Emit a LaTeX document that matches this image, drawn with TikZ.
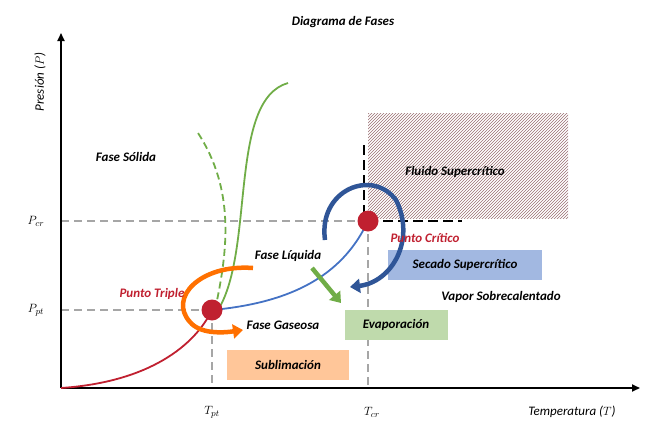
\documentclass[tikz,border=0pt]{standalone}
\usepackage{fontspec}
\setmainfont{Carlito}
\usetikzlibrary{arrows.meta,patterns}
\definecolor{kRed}{RGB}{192,32,48}
\definecolor{kBlue}{RGB}{47,85,151}
\definecolor{kLBlue}{RGB}{68,114,196}
\definecolor{kGreen}{RGB}{112,173,71}
\definecolor{kOrange}{RGB}{255,112,0}
\definecolor{kGrey}{RGB}{166,166,166}
\tikzset{
  every node/.style={font=\fontsize{13}{15}\selectfont},
  lbl/.style={font=\bfseries\itshape\fontsize{13}{15}\selectfont},
  redlbl/.style={lbl,text=kRed},
  procbox/.style={lbl,minimum height=30pt,inner sep=0pt},
  guide/.style={kGrey,line width=2pt,dash pattern=on 8pt off 5pt},
  dot/.style={circle,fill=kRed,minimum size=21pt,inner sep=0pt}
}
\begin{document}
\begin{tikzpicture}[x=1pt,y=-1pt]
  \useasboundingbox (0,0) rectangle (650,431);

  % hatched region
  \fill[pattern=north east lines,pattern color=kRed!45!black!60] (368,113) rectangle (568,218);

  % guide lines
  \draw[guide] (61,221) -- (368,221);
  \draw[guide] (61,310) -- (212,310);
  \draw[guide] (212,310) -- (212,388);
  \draw[guide] (368,221) -- (368,388);
  \draw[black,line width=2.2pt,dash pattern=on 10pt off 5pt] (364,145) -- (364,221) (368,221) -- (462,221);

  % axes
  \draw[line width=1.8pt,-{Triangle[length=8pt,width=7pt]}] (61,388) -- (61,33);
  \draw[line width=1.8pt,-{Triangle[length=8pt,width=7pt]}] (61,388) -- (640,388);

  % boxes
  \node[procbox,fill=kLBlue!50,minimum width=154pt] (secado) at (465,265) {Secado Supercrítico};
  \node[procbox,fill=kGreen!45,minimum width=103pt] (evap) at (396,325) {Evaporación};
  \node[procbox,fill=kOrange!40,minimum width=122pt] (subl) at (288,365) {Sublimación};

  % phase curves
  \draw[kRed,line width=1.8pt] (61,388) .. controls (150,382) and (195,345) .. (212,310);
  \draw[kLBlue,line width=1.8pt] (212,310) .. controls (300,302) and (345,270) .. (368,221);
  \draw[kGreen,line width=1.8pt] (218,310) .. controls (255,250) and (228,100) .. (288,83);
  \draw[kGreen,line width=1.8pt,dash pattern=on 7pt off 4pt] (215,310) .. controls (228,250) and (235,190) .. (198,133);

  % points
  \node[dot] (tp) at (212,310) {};
  \node[dot] (cp) at (368,221) {};

  % process arrows
  \draw[kOrange,line width=4.5pt,-{Triangle[length=10pt,width=14pt]}]
    (253,268) .. controls (200,264) and (168,298) .. (190,322)
    .. controls (200,334) and (222,333) .. (243,330);
  \draw[kBlue,line width=4.5pt,-{Triangle[length=10pt,width=14pt]}]
    (325,240) .. controls (318,190) and (372,168) .. (396,200)
    .. controls (416,240) and (392,282) .. (350,287);
  \draw[kGreen,line width=4.5pt,-{Triangle[length=10pt,width=14pt]}] (312,268) -- (341,303);

  % labels
  \node[lbl] (title) at (343,22) {Diagrama de Fases};
  \node[font=\itshape\fontsize{13}{15}\selectfont,rotate=90] (ylab) at (40,82) {Presión ($P$)};
  \node[font=\itshape\fontsize{13}{15}\selectfont] (xlab) at (572,412) {Temperatura ($T$)};
  \node (pcr) at (36,221) {$P_{cr}$};
  \node (ppt) at (36,310) {$P_{pt}$};
  \node (tpt) at (212,412) {$T_{pt}$};
  \node (tcr) at (372,412) {$T_{cr}$};
  \node[lbl] (solid) at (126,157) {Fase Sólida};
  \node[lbl] (fluid) at (455,172) {Fluido Supercrítico};
  \node[redlbl] (crit) at (425,238) {Punto Crítico};
  \node[lbl] (liq) at (288,256) {Fase Líquida};
  \node[redlbl] (trip) at (152,294) {Punto Triple};
  \node[lbl] (gas) at (283,325) {Fase Gaseosa};
  \node[lbl] (vapor) at (501,297) {Vapor Sobrecalentado};
\end{tikzpicture}
\end{document}
